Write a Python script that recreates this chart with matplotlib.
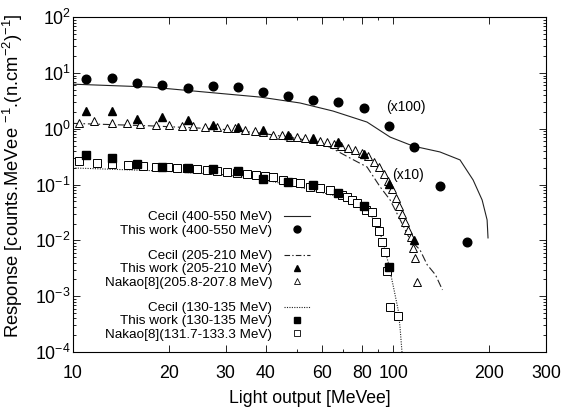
import numpy as np
import matplotlib
matplotlib.use("Agg")
import matplotlib.pyplot as plt
from matplotlib.ticker import LogLocator, NullFormatter, FixedLocator, FixedFormatter
from matplotlib.lines import Line2D

plt.rcParams['font.family'] = ['Liberation Sans', 'DejaVu Sans']
plt.rcParams['mathtext.fontset'] = 'custom'
plt.rcParams['mathtext.rm'] = 'Liberation Sans'
plt.rcParams['mathtext.it'] = 'Liberation Sans:italic'

# ---- data (light output in MeVee, response already scaled x100 / x10 / x1) ----
work_x = [11.0, 13.2, 15.9, 19.0, 22.9, 27.4, 32.8, 39.2, 47.0, 56.2,
          67.3, 81.2, 97.2, 116.4, 140.2, 170.3]

# 400-550 MeV (x100)
work_400_y = [7.8, 8.1, 6.6, 6.1, 5.4, 5.8, 5.6, 4.55, 3.9, 3.3,
              3.0, 2.36, 1.12, 0.47, 0.095, 0.0094]
cecil_400_x = [10.0, 17.4, 38.4, 51.2, 64.9, 82.9, 97.9, 115.5, 140.0,
               161.8, 177.8, 189.7, 196.6, 197.9]
cecil_400_y = [6.3, 5.6, 3.7, 2.9, 2.08, 1.32, 0.71, 0.49, 0.385,
               0.277, 0.121, 0.053, 0.0233, 0.0111]

# 205-210 MeV (x10)
work_205_y = [2.08, 2.08, 1.50, 1.63, 1.44, 1.17, 1.08, 0.95, 0.78, 0.69,
              0.58, 0.35, 0.103, 0.0103]
nakao_205_x = [10.44, 11.63, 13.24, 14.75, 16.19, 18.17, 19.95, 21.91, 23.71,
               25.85, 28.18, 30.28, 32.08, 34.47, 37.04, 39.25, 42.17, 44.98,
               47.66, 50.12, 53.09, 56.23, 59.1, 62.2, 65.4, 68.8, 72.3, 76.1,
               80.0, 83.5, 87.2, 90.4, 93.7, 96.4, 99.3, 102.2, 104.4, 106.7,
               109.0, 111.4, 113.8, 115.5, 117.2, 118.9]
nakao_205_y = [1.27, 1.38, 1.27, 1.27, 1.22, 1.17, 1.17, 1.12, 1.12,
               1.08, 1.08, 1.03, 1.03, 0.95, 0.91, 0.877, 0.775, 0.775,
               0.714, 0.714, 0.685, 0.657, 0.605, 0.58, 0.535, 0.493, 0.454, 0.418,
               0.369, 0.326, 0.255, 0.207, 0.155, 0.116, 0.0838, 0.0578, 0.0416, 0.0299,
               0.0215, 0.0155, 0.0116, 0.0074, 0.0049, 0.0018]
cecil_205_x = [10.0, 17.4, 28.8, 38.4, 51.2, 63.5, 73.3, 82.9, 91.1, 97.9,
               105.3, 113.0, 121.3, 127.8, 135.6, 142.6]
cecil_205_y = [1.25, 1.13, 0.99, 0.84, 0.66, 0.47, 0.30, 0.207, 0.091, 0.053,
               0.0233, 0.0103, 0.0068, 0.00366, 0.00243, 0.0013]

# 130-135 MeV (x1)
work_130_y = [0.34, 0.30, 0.234, 0.207, 0.199, 0.191, 0.176, 0.126, 0.112,
              0.099, 0.071, 0.042, 0.0034]
nakao_130_x = [10.44, 11.89, 13.24, 14.85, 16.55, 18.17, 19.81, 21.13, 22.71,
               24.41, 26.24, 28.18, 30.28, 32.54, 34.97, 37.32, 39.81, 42.17,
               45.30, 48.35, 51.2, 55.0, 59.1, 63.5, 69.3, 71.8, 74.5, 77.2,
               82.3, 85.9, 88.4, 90.4, 92.4, 94.4, 95.8, 97.9, 103.7]
nakao_130_y = [0.265, 0.244, 0.234, 0.225, 0.216, 0.207, 0.207, 0.199, 0.199,
               0.191, 0.183, 0.176, 0.169, 0.162, 0.155, 0.149, 0.143, 0.137,
               0.121, 0.112, 0.107, 0.091, 0.087, 0.080, 0.0654, 0.060, 0.053, 0.047,
               0.0352, 0.0325, 0.0215, 0.0149, 0.0094, 0.00625, 0.00286, 0.00065, 0.00045]
cecil_130_x = [10.0, 18.7, 30.3, 41.3, 53.8, 68.2, 78.9, 83.5, 89.1, 92.4,
               96.5, 100.7, 103.7, 105.1, 106.6]
cecil_130_y = [0.199, 0.176, 0.149, 0.116, 0.084, 0.060, 0.045, 0.031, 0.0215,
               0.0103, 0.0041, 0.0013, 0.00057, 0.00028, 0.0001]

xticks = [10, 20, 30, 40, 60, 80, 100, 200, 300]
yexps = [-4, -3, -2, -1, 0, 1, 2]

fig = plt.figure(figsize=(5.74, 4.08), dpi=100)
ax = fig.add_axes([0.127, 0.137, 0.824, 0.821])

lc = '#222222'
ms = 6.2
ax.plot(cecil_400_x, cecil_400_y, '-', color=lc, lw=0.8)
ax.plot(work_x, work_400_y, 'o', color='k', ms=ms, ls='none')

ax.plot(cecil_205_x, cecil_205_y, color=lc, lw=0.8, ls=(0, (7, 2.5, 1.5, 2.5)))
ax.plot(nakao_205_x, nakao_205_y, '^', mfc='white', mec='k', mew=0.7, ms=ms, ls='none')
ax.plot(work_x[:len(work_205_y)], work_205_y, '^', color='k', ms=ms, ls='none')

ax.plot(cecil_130_x, cecil_130_y, color=lc, lw=0.8, ls=(0, (1, 1.2)))
ax.plot(nakao_130_x, nakao_130_y, 's', mfc='white', mec='k', mew=0.7, ms=ms, ls='none')
ax.plot(work_x[:len(work_130_y)], work_130_y, 's', color='k', ms=ms, ls='none')

ax.text(95, 2.45, '(x100)', fontsize=10, ha='left', va='center')
ax.text(99, 0.149, '(x10)', fontsize=10, ha='left', va='center')

ax.set_xscale('log')
ax.set_yscale('log')
ax.set_xlim(10, 300)
ax.set_ylim(1e-4, 1e2)
ax.xaxis.set_major_locator(FixedLocator(xticks))
ax.xaxis.set_major_formatter(FixedFormatter([str(t) for t in xticks]))
ax.xaxis.set_minor_locator(LogLocator(base=10, subs=np.arange(2, 10)))
ax.xaxis.set_minor_formatter(NullFormatter())
ax.yaxis.set_major_locator(FixedLocator([10.0 ** e for e in yexps]))
ax.yaxis.set_major_formatter(FixedFormatter([r'$10^{%d}$' % e for e in yexps]))
ax.yaxis.set_minor_locator(LogLocator(base=10, subs=np.arange(2, 10), numticks=10))
ax.yaxis.set_minor_formatter(NullFormatter())
ax.tick_params(which='both', direction='in', top=True, right=True, labelsize=12.8, width=0.6)
ax.tick_params(which='major', length=5)
ax.tick_params(which='minor', length=2.5)
ax.tick_params(axis='x', which='major', pad=9)
ax.tick_params(axis='y', which='major', pad=1.5)
for s in ax.spines.values():
    s.set_linewidth(0.8)

ax.set_xlabel('Light output [MeVee]', fontsize=12.7, labelpad=6)
ax.set_ylabel(r'Response [counts.MeVee $^{-1}$.(n.cm$^{-2}$)$^{-1}$]', fontsize=13.2,
              va='center')
ax.yaxis.set_label_coords(-0.127, 0.525)

blank = Line2D([], [], ls='none')
handles = [
    Line2D([], [], color=lc, lw=0.8),
    Line2D([], [], marker='o', color='k', ls='none', ms=5),
    blank,
    Line2D([], [], color=lc, lw=0.8, ls=(0, (5, 2, 1.2, 2))),
    Line2D([], [], marker='^', color='k', ls='none', ms=5),
    Line2D([], [], marker='^', mfc='white', mec='k', mew=0.6, ls='none', ms=5),
    blank,
    Line2D([], [], color=lc, lw=0.8, ls=(0, (1, 1.2))),
    Line2D([], [], marker='s', color='k', ls='none', ms=5),
    Line2D([], [], marker='s', mfc='white', mec='k', mew=0.6, ls='none', ms=5),
]
labels = ['Cecil (400-550 MeV)', 'This work (400-550 MeV)', ' ',
          'Cecil (205-210 MeV)', 'This work (205-210 MeV)', 'Nakao[8](205.8-207.8 MeV)', ' ',
          'Cecil (130-135 MeV)', 'This work (130-135 MeV)', 'Nakao[8](131.7-133.3 MeV)']
leg = ax.legend(handles, labels, loc='upper right', bbox_to_anchor=(0.501, 0.42),
                frameon=False, markerfirst=False, fontsize=9.7, labelspacing=0.1,
                handlelength=1.9, handletextpad=0.9, borderpad=0, borderaxespad=0,
                handleheight=0.5)
for i, t in enumerate(leg.get_texts()):
    if labels[i] == ' ':
        t.set_fontsize(7)

fig.savefig('out.png', dpi=100)
